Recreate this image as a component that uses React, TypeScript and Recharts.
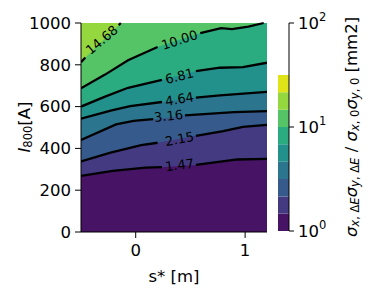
import {
  ComposedChart,
  Area,
  Line,
  Scatter,
  XAxis,
  YAxis,
  CartesianGrid,
  Label,
} from 'recharts';

const FONT = '"DejaVu Sans", sans-serif';

const sTicks = [0, 1];
const iTicks = [0, 200, 400, 600, 800, 1000];
const cbTicks = [1, 10, 100];

// contour levels (log spaced) and viridis band colours
const levels = [1, 1.47, 2.15, 3.16, 4.64, 6.81, 10.0, 14.68, 21.54, 31.62];
const bandColors = [
  '#471365',
  '#433a81',
  '#375a8c',
  '#2b768e',
  '#22918b',
  '#2bac80',
  '#54c467',
  '#95d73f',
  '#dfe318',
];

// contour lines as [s, I]; a null I is the gap under the inline label
const c147 = [[-0.5, 268], [-0.21, 292], [0.09, 308], [0.24, 310], [0.4, null], [0.55, 321], [0.93, 347], [1.2, 350]];
const c215 = [[-0.5, 338], [-0.23, 380], [0.05, 416], [0.2, 427], [0.4, null], [0.55, 460], [0.8, 483], [0.98, 503], [1.2, 513]];
const c316 = [[-0.5, 440], [-0.18, 515], [-0.02, 532], [0.16, 540], [0.3, null], [0.45, 558], [0.9, 574], [1.2, 578]];
const c464 = [[-0.5, 542], [-0.22, 582], [-0.05, 602], [0.24, 622], [0.4, null], [0.55, 643], [0.77, 654], [1.2, 670]];
const c681 = [[-0.5, 600], [-0.28, 648], [-0.07, 690], [0.24, 728], [0.4, null], [0.55, 770], [0.77, 786], [0.98, 789], [1.2, 810]];
const c1000 = [[-0.5, 688], [-0.28, 753], [-0.07, 822], [0.2, 885], [0.4, null], [0.59, 952], [0.78, 975], [0.88, 971], [1.03, 983], [1.17, 1000], [1.2, 1000]];
const c1468 = [[-0.5, 813], [-0.46, 835], [-0.31, null], [-0.155, 990], [-0.136, 1000], [1.2, 1000]];

const contours = [c147, c215, c316, c464, c681, c1000, c1468];

const labelText = ['1.47', '2.15', '3.16', '4.64', '6.81', '10.00', '14.68'];
const labelS = [0.4, 0.4, 0.3, 0.4, 0.4, 0.4, -0.31];
const labelI = [320, 445, 555, 636, 746, 919, 919];
const labelAngle = [-7, -11, -6, -10, -14, -18, -40];

// colorbar spans x 0..1
const cbX = [0, 1];

const toRows = (pts: (number | null)[][]) => pts.map(([s, I]) => ({ s, I }));
const areaRows = (pts: (number | null)[][]) => toRows(pts.filter((p) => p[1] !== null));
// line stops where it reaches the top of the axes
const lineRows = (pts: (number | null)[][]) => {
  const end = pts.findIndex((p) => p[1] !== null && (p[1] as number) >= 1000);
  return toRows(end >= 0 ? pts.slice(0, end + 1) : pts);
};

const labelRows = labelText.map((t, k) => ({ s: labelS[k], I: labelI[k], t, a: labelAngle[k] }));

const cbRows = cbX.map((x) => {
  const row: Record<string, any> = { x };
  bandColors.forEach((_, k) => {
    row[`b${k}`] = [levels[k], levels[k + 1]];
  });
  return row;
});

const ContourLabel = (props: any) => {
  const { cx, cy, payload } = props;
  return (
    <text
      x={cx}
      y={cy}
      textAnchor="middle"
      dominantBaseline="central"
      fontSize={13}
      fontFamily={FONT}
      fill="#000"
      transform={`rotate(${payload.a} ${cx} ${cy})`}
    >
      {payload.t}
    </text>
  );
};

const PowTick = (props: any) => {
  const { x, y, payload } = props;
  const exp = Math.round(Math.log10(payload.value));
  return (
    <text x={x} y={y} dy={6} fontSize={16.5} fontFamily={FONT} fill="#000" textAnchor="start">
      <tspan>10</tspan>
      <tspan dy={-8} fontSize={11.5}>{exp}</tspan>
    </text>
  );
};

const axisTick = { fontSize: 16.5, fill: '#000', fontFamily: FONT };

export default function App() {
  return (
    <div style={{ position: 'absolute', left: 0, top: 0, width: 368, height: 290, background: '#fff' }}>
      <div style={{ position: 'absolute', left: 0, top: 0 }}>
        <ComposedChart width={368} height={290} margin={{ top: 23, right: 101, bottom: 0, left: 0 }}>
          <CartesianGrid horizontal={false} vertical={false} fill={bandColors[7]} stroke="none" />
          <XAxis
            dataKey="s"
            type="number"
            domain={[-0.5, 1.2]}
            ticks={sTicks}
            allowDataOverflow
            height={58}
            tick={axisTick}
            tickLine={{ stroke: '#000' }}
            axisLine={{ stroke: '#000' }}
            tickSize={6}
            tickMargin={6}
          >
            <Label
              value="s* [m]"
              position="insideBottom"
              offset={8}
              style={{ fontSize: 16.5, fill: '#000', fontFamily: FONT }}
            />
          </XAxis>
          <YAxis
            type="number"
            domain={[0, 1000]}
            ticks={iTicks}
            width={81}
            tick={axisTick}
            tickLine={{ stroke: '#000' }}
            axisLine={{ stroke: '#000' }}
            tickSize={6}
            tickMargin={4}
            label={{
              content: () => (
                <text
                  x={24}
                  y={127}
                  transform="rotate(-90 24 127)"
                  textAnchor="middle"
                  dominantBaseline="central"
                  fontSize={16.5}
                  fontFamily={FONT}
                  fill="#000"
                >
                  <tspan fontStyle="italic">I</tspan>
                  <tspan dy={4} fontSize={11.5}>800</tspan>
                  <tspan dy={-4}>[A]</tspan>
                </text>
              ),
            }}
          />
          <XAxis
            xAxisId="top"
            orientation="top"
            type="number"
            domain={[-0.5, 1.2]}
            height={0}
            tick={false}
            tickLine={false}
            axisLine={{ stroke: '#000' }}
          />
          <YAxis
            yAxisId="right"
            orientation="right"
            type="number"
            domain={[0, 1000]}
            width={0}
            tick={false}
            tickLine={false}
            axisLine={{ stroke: '#000' }}
          />
          {contours
            .map((c, k) => (
              <Area
                key={`a${k}`}
                data={areaRows(c)}
                dataKey="I"
                type="linear"
                stroke="none"
                fill={bandColors[k]}
                fillOpacity={1}
                dot={false}
                activeDot={false}
                isAnimationActive={false}
              />
            ))
            .reverse()}
          {contours.map((c, k) => (
            <Line
              key={`l${k}`}
              data={lineRows(c)}
              dataKey="I"
              type="linear"
              stroke="#000"
              strokeWidth={2.3}
              dot={false}
              activeDot={false}
              connectNulls={false}
              isAnimationActive={false}
            />
          ))}
          <Scatter data={labelRows} dataKey="I" shape={ContourLabel} isAnimationActive={false} />
        </ComposedChart>
      </div>
      <div style={{ position: 'absolute', left: 0, top: 0 }}>
        <ComposedChart data={cbRows} width={368} height={290} margin={{ top: 23, right: 0, bottom: 59, left: 278 }}>
          {bandColors.map((col, k) => (
            <Area
              key={`cb${k}`}
              dataKey={`b${k}`}
              type="linear"
              stroke="none"
              fill={col}
              fillOpacity={1}
              dot={false}
              activeDot={false}
              isAnimationActive={false}
            />
          ))}
          <XAxis dataKey="x" type="number" domain={[0, 1]} height={0} tick={false} tickLine={false} axisLine={{ stroke: '#000' }} />
          <XAxis xAxisId="top" orientation="top" type="number" domain={[0, 1]} height={0} tick={false} tickLine={false} axisLine={{ stroke: '#000' }} />
          <YAxis yAxisId="left" orientation="left" type="number" domain={[0, 1]} width={0} tick={false} tickLine={false} axisLine={{ stroke: '#000' }} />
          <YAxis
            orientation="right"
            type="number"
            scale="log"
            domain={[1, 100]}
            allowDataOverflow
            ticks={cbTicks}
            width={79}
            tick={<PowTick />}
            tickLine={{ stroke: '#000' }}
            axisLine={{ stroke: '#000' }}
            tickSize={5}
            tickMargin={4}
            label={{
              content: () => (
                <text
                  x={351}
                  y={127}
                  transform="rotate(-90 351 127)"
                  textAnchor="middle"
                  dominantBaseline="central"
                  fontSize={16.5}
                  fontFamily={FONT}
                  fill="#000"
                >
                  <tspan fontStyle="italic">σ</tspan>
                  <tspan dy={4} fontSize={11.5} fontStyle="italic">x</tspan>
                  <tspan fontSize={11.5}>, Δ</tspan>
                  <tspan fontSize={11.5} fontStyle="italic">E</tspan>
                  <tspan dy={-4} fontStyle="italic">σ</tspan>
                  <tspan dy={4} fontSize={11.5} fontStyle="italic">y</tspan>
                  <tspan fontSize={11.5}>, Δ</tspan>
                  <tspan fontSize={11.5} fontStyle="italic">E</tspan>
                  <tspan dy={-4}> / </tspan>
                  <tspan fontStyle="italic">σ</tspan>
                  <tspan dy={4} fontSize={11.5} fontStyle="italic">x</tspan>
                  <tspan fontSize={11.5}>, 0</tspan>
                  <tspan dy={-4} fontStyle="italic">σ</tspan>
                  <tspan dy={4} fontSize={11.5} fontStyle="italic">y</tspan>
                  <tspan fontSize={11.5}>, 0</tspan>
                  <tspan dy={-4}> [mm2]</tspan>
                </text>
              ),
            }}
          />
        </ComposedChart>
      </div>
    </div>
  );
}
